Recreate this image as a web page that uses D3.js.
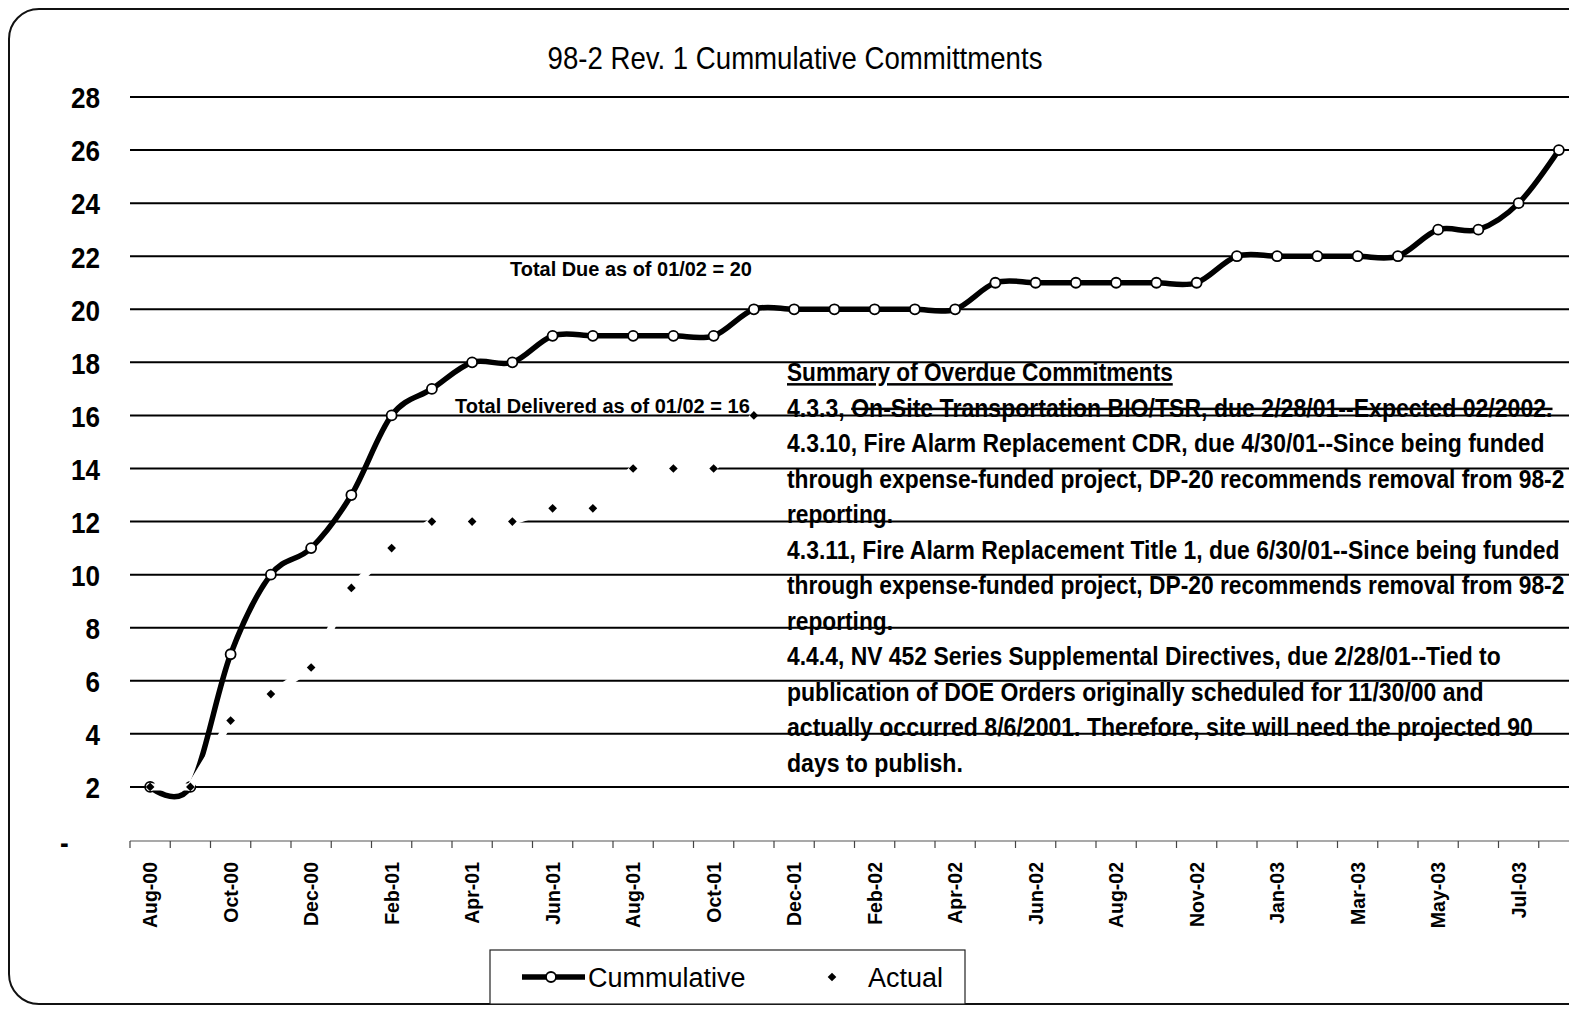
<!DOCTYPE html>
<html>
<head>
<meta charset="utf-8">
<title>98-2 Rev. 1 Cummulative Committments</title>
<script src="https://cdn.jsdelivr.net/npm/d3@7"></script>
<style>
  body { margin: 0; background: #fff; }
  svg { display: block; font-family: "Liberation Sans", Arial, sans-serif; }
</style>
</head>
<body>
<svg id="chart" width="1569" height="1010"></svg>
<script>
// months on the category axis (one month is skipped between Aug-02 and Nov-02)
const months = [
  "Aug-00", "Sep-00", "Oct-00", "Nov-00", "Dec-00", "Jan-01", "Feb-01", "Mar-01",
  "Apr-01", "May-01", "Jun-01", "Jul-01", "Aug-01", "Sep-01", "Oct-01", "Nov-01",
  "Dec-01", "Jan-02", "Feb-02", "Mar-02", "Apr-02", "May-02", "Jun-02", "Jul-02",
  "Aug-02", "Oct-02", "Nov-02", "Dec-02", "Jan-03", "Feb-03", "Mar-03", "Apr-03",
  "May-03", "Jun-03", "Jul-03", "Aug-03"
];

const cumulative = [
  2, 2, 7, 10, 11, 13, 16, 17, 18, 18, 19, 19, 19, 19, 19, 20,
  20, 20, 20, 20, 20, 21, 21, 21, 21, 21, 21, 22, 22, 22, 22, 22,
  23, 23, 24, 26
];

// actual deliveries stop after Nov-01
const actual = [2, 2, 4.5, 5.5, 6.5, 9.5, 11, 12, 12, 12, 12.5, 12.5, 14, 14, 14, 16];

const yTicks = [0, 2, 4, 6, 8, 10, 12, 14, 16, 18, 20, 22, 24, 26, 28];
const xLabels = months.filter((m, i) => i % 2 === 0);

const titleText = "98-2 Rev. 1 Cummulative Committments";
const seriesNames = ["Cummulative", "Actual"];
const totalDue = "Total Due as of 01/02 = 20";
const totalDelivered = "Total Delivered as of 01/02 = 16";

const summaryLines = [
  "Summary of Overdue Commitments",
  "4.3.3, On-Site Transportation BIO/TSR, due 2/28/01--Expected 02/2002.",
  "4.3.10, Fire Alarm Replacement CDR, due 4/30/01--Since being funded",
  "through expense-funded project, DP-20 recommends removal from 98-2",
  "reporting.",
  "4.3.11, Fire Alarm Replacement Title 1, due 6/30/01--Since being funded",
  "through expense-funded project, DP-20 recommends removal from 98-2",
  "reporting.",
  "4.4.4, NV 452 Series Supplemental Directives, due 2/28/01--Tied to",
  "publication of DOE Orders originally scheduled for 11/30/00 and",
  "actually occurred 8/6/2001.  Therefore, site will need the projected 90",
  "days to publish."
];

const svg = d3.select("#chart");

// outer rounded frame (cut off on the right, like the scan)
svg.append("rect")
  .attr("x", 9).attr("y", 9)
  .attr("width", 1640).attr("height", 995)
  .attr("rx", 30)
  .attr("fill", "none")
  .attr("stroke", "#111")
  .attr("stroke-width", 2);

// scales
const x = d3.scaleBand()
  .domain(months)
  .range([130, 130 + months.length * 40.25]);
const cx = m => x(m) + x.bandwidth() / 2;

const y = d3.scaleLinear().domain([0, 28]).range([840, 97]);

// gridlines
svg.append("g")
  .selectAll("line")
  .data(yTicks.filter(v => v > 0))
  .join("line")
  .attr("x1", 130).attr("x2", 1569)
  .attr("y1", d => y(d)).attr("y2", d => y(d))
  .attr("stroke", "#000")
  .attr("stroke-width", 2);

// y axis labels (condensed bold, like Arial Narrow)
const yAxis = svg.append("g")
  .attr("transform", "translate(100,0)")
  .call(d3.axisLeft(y).tickValues(yTicks).tickSize(0).tickPadding(0)
    .tickFormat(d => d === 0 ? "-" : d));
yAxis.select(".domain").remove();
yAxis.selectAll("text")
  .attr("font-size", 30)
  .attr("font-weight", "bold")
  .attr("fill", "#000")
  .attr("dy", "0.36em")
  .attr("transform", "scale(0.87,1)");
yAxis.selectAll(".tick").filter(d => d === 0).select("text")
  .attr("x", -36).attr("dy", "0.4em");

// x axis line and category ticks
const axisY = 841;
svg.append("line")
  .attr("x1", 130).attr("x2", 1569)
  .attr("y1", axisY).attr("y2", axisY)
  .attr("stroke", "#555")
  .attr("stroke-width", 1.2);
svg.append("g")
  .selectAll("line")
  .data(months)
  .join("line")
  .attr("x1", d => x(d)).attr("x2", d => x(d))
  .attr("y1", axisY).attr("y2", axisY + 7)
  .attr("stroke", "#444")
  .attr("stroke-width", 1.2);

const xAxis = svg.append("g")
  .attr("transform", `translate(0,${axisY})`)
  .call(d3.axisBottom(x).tickValues(xLabels).tickSize(0));
xAxis.select(".domain").remove();
xAxis.selectAll("text")
  .attr("transform", "rotate(-90)")
  .attr("text-anchor", "end")
  .attr("x", -21)
  .attr("y", 0)
  .attr("dy", "0.36em")
  .attr("font-size", 19.5)
  .attr("font-weight", "bold")
  .attr("font-family", "'Liberation Sans', Arial, sans-serif")
  .attr("fill", "#000");

// Cummulative series: smoothed thick line with open circles
const cumLine = d3.line()
  .x((d, i) => cx(months[i]))
  .y(d => y(d))
  .curve(d3.curveCardinal.tension(0));

svg.append("path")
  .datum(cumulative)
  .attr("d", cumLine)
  .attr("fill", "none")
  .attr("stroke", "#000")
  .attr("stroke-width", 5.5);

svg.append("g")
  .selectAll("circle")
  .data(cumulative)
  .join("circle")
  .attr("cx", (d, i) => cx(months[i]))
  .attr("cy", d => y(d))
  .attr("r", 5)
  .attr("fill", "#fff")
  .attr("stroke", "#000")
  .attr("stroke-width", 1.8);

// Actual series: white connecting line (hides gridlines) + small diamonds
const actLine = d3.line()
  .x((d, i) => cx(months[i]))
  .y(d => y(d));

svg.append("path")
  .datum(actual)
  .attr("d", actLine)
  .attr("fill", "none")
  .attr("stroke", "#fff")
  .attr("stroke-width", 7);

svg.append("g")
  .selectAll("path")
  .data(actual)
  .join("path")
  .attr("transform", (d, i) => `translate(${cx(months[i])},${y(d)})`)
  .attr("d", d3.symbol(d3.symbolDiamond2, 48))
  .attr("fill", "#000");

// squeeze a text horizontally so it spans `width` px from its anchor
function condense(sel, px, py, width, anchor) {
  sel.attr("x", 0).attr("y", 0).attr("text-anchor", anchor || "start");
  const natural = sel.node().getComputedTextLength();
  const k = Math.min(1, width / natural);
  sel.attr("transform", `translate(${px},${py}) scale(${k},1)`);
}

// title
const title = svg.append("text")
  .attr("font-size", 32)
  .text(titleText);
condense(title, 795, 69, 495, "middle");

// totals
const dueText = svg.append("text")
  .attr("font-size", 20)
  .attr("font-weight", "bold")
  .text(totalDue);
condense(dueText, 510, 276, 242);

const deliveredText = svg.append("text")
  .attr("font-size", 20)
  .attr("font-weight", "bold")
  .text(totalDelivered);
condense(deliveredText, 455, 413, 295);

// summary of overdue commitments
const summaryWidths = [386, 766, 758, 778, 106, 773, 778, 106, 714, 697, 746, 176];
const summary = svg.append("g")
  .attr("font-weight", "bold");

summaryLines.forEach((line, i) => {
  const t = summary.append("text")
    .attr("font-size", 25);
  if (i === 0) {
    t.style("text-decoration", "underline").text(line);
  } else if (i === 1) {
    const cut = line.indexOf("On-Site");
    t.append("tspan").text(line.slice(0, cut));
    t.append("tspan").style("text-decoration", "line-through").text(line.slice(cut));
  } else {
    t.text(line);
  }
  condense(t, 787, 381 + i * 35.5, summaryWidths[i]);
});

// legend
const legend = svg.append("g");
legend.append("rect")
  .attr("x", 490).attr("y", 950)
  .attr("width", 475).attr("height", 54)
  .attr("fill", "#fff")
  .attr("stroke", "#222")
  .attr("stroke-width", 1.2);
legend.append("line")
  .attr("x1", 522).attr("x2", 585)
  .attr("y1", 977).attr("y2", 977)
  .attr("stroke", "#000")
  .attr("stroke-width", 5.5);
legend.append("circle")
  .attr("cx", 551).attr("cy", 977).attr("r", 5)
  .attr("fill", "#fff")
  .attr("stroke", "#000")
  .attr("stroke-width", 1.8);
legend.append("path")
  .attr("transform", "translate(832,977)")
  .attr("d", d3.symbol(d3.symbolDiamond2, 48))
  .attr("fill", "#000");
legend.selectAll("text.lbl")
  .data(seriesNames)
  .join("text")
  .attr("class", "lbl")
  .attr("x", (d, i) => i === 0 ? 588 : 868)
  .attr("y", 987)
  .attr("font-size", 27)
  .text(d => d);
</script>
</body>
</html>
